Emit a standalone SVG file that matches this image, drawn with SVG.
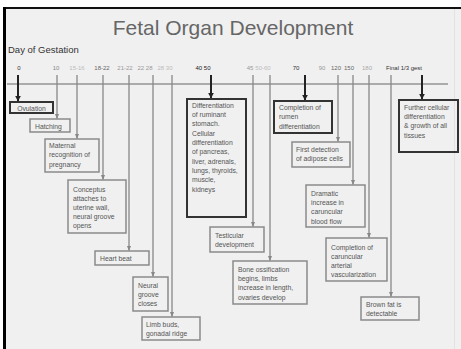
<svg xmlns="http://www.w3.org/2000/svg" width="461" height="349" viewBox="0 0 461 349">
<style>
text{font-family:"Liberation Sans",Arial,sans-serif}
.t{font-size:6.8px;fill:#555}
.lb{font-size:6px;text-anchor:middle}
.bk{fill:none;stroke:#333;stroke-width:2}
.bg{fill:none;stroke:#8a8a8a;stroke-width:1.5}
.ab{stroke:#222;stroke-width:2;fill:none}
.ag{stroke:#888;stroke-width:1.3;fill:none}
</style>
<defs>
<marker id="hb" viewBox="0 0 10 10" refX="9" refY="5" markerWidth="3" markerHeight="3" orient="auto"><path d="M0,0 L10,5 L0,10 z" fill="#222"/></marker>
<marker id="hg" viewBox="0 0 10 10" refX="9" refY="5" markerWidth="4" markerHeight="4" orient="auto"><path d="M0,1 L10,5 L0,9 z" fill="#888"/></marker>
</defs>
<rect x="0" y="0" width="461" height="349" fill="#fff"/>
<rect x="4" y="8" width="457" height="341" fill="#f0f0f0"/>
<line x1="3" y1="8" x2="461" y2="8" stroke="#111" stroke-width="2"/>
<line x1="4.5" y1="7" x2="4.5" y2="349" stroke="#000" stroke-width="3"/>
<line x1="454.5" y1="9" x2="454.5" y2="349" stroke="#e2e2e2" stroke-width="1"/>
<text x="233" y="35" font-size="21" fill="#666" text-anchor="middle">Fetal Organ Development</text>
<text x="8" y="53" font-size="9.5" fill="#333">Day of Gestation</text>
<g id="scale">
<text class="lb" x="19" y="70" fill="#333">0</text>
<text class="lb" x="56" y="70" fill="#888">10</text>
<text class="lb" x="77" y="70" fill="#bbb">15-16</text>
<text class="lb" x="102" y="70" fill="#666">18-22</text>
<text class="lb" x="125" y="70" fill="#999">21-22</text>
<text class="lb" x="145" y="70" fill="#999">22 28</text>
<text class="lb" x="165" y="70" fill="#bbb">28 30</text>
<text class="lb" x="203" y="70" fill="#222">40 50</text>
<text class="lb" x="250" y="70" fill="#999">45</text>
<text class="lb" x="263" y="70" fill="#bbb">50-60</text>
<text class="lb" x="296" y="70" fill="#333">70</text>
<text class="lb" x="322" y="70" fill="#999">90</text>
<text class="lb" x="336" y="70" fill="#666">120</text>
<text class="lb" x="349" y="70" fill="#666">150</text>
<text class="lb" x="367" y="70" fill="#aaa">180</text>
<text class="lb" x="404" y="70" fill="#333">Final 1/3 gest</text>
<line x1="7" y1="84" x2="448" y2="84" stroke="#666" stroke-width="1"/>
</g>
<g id="connectors">
<line class="ab" x1="18" y1="75" x2="18" y2="101" marker-end="url(#hb)"/>
<line class="ag" x1="57" y1="75" x2="57" y2="118.5" marker-end="url(#hg)"/>
<line class="ag" x1="77" y1="75" x2="77" y2="138.5" marker-end="url(#hg)" stroke="#aaa"/>
<line class="ag" x1="103" y1="75" x2="103" y2="179.5" marker-end="url(#hg)" stroke="#666"/>
<line class="ag" x1="129" y1="75" x2="129" y2="250.5" marker-end="url(#hg)"/>
<line class="ag" x1="153" y1="75" x2="153" y2="276.5" marker-end="url(#hg)" stroke="#777"/>
<line class="ag" x1="172" y1="75" x2="172" y2="316.5" marker-end="url(#hg)" stroke="#aaa"/>
<line class="ab" x1="211" y1="75" x2="211" y2="98" marker-end="url(#hb)"/>
<line class="ag" x1="253" y1="75" x2="253" y2="226.5" marker-end="url(#hg)"/>
<line class="ag" x1="270" y1="75" x2="270" y2="260.5" marker-end="url(#hg)" stroke="#aaa"/>
<line class="ab" x1="305" y1="75" x2="305" y2="100" marker-end="url(#hb)"/>
<line class="ag" x1="338" y1="75" x2="338" y2="141.5" marker-end="url(#hg)"/>
<line class="ag" x1="353" y1="75" x2="353" y2="184.5" marker-end="url(#hg)" stroke="#666"/>
<line class="ag" x1="369" y1="75" x2="369" y2="237.5" marker-end="url(#hg)" stroke="#777"/>
<line class="ag" x1="391" y1="75" x2="391" y2="296.5" marker-end="url(#hg)" stroke="#999"/>
<line class="ab" x1="422" y1="75" x2="422" y2="99" marker-end="url(#hb)"/>
</g>
<g id="ovulation"><rect class="bk" x="10" y="102" width="43" height="11"/><text class="t" x="31.5" y="110.5" text-anchor="middle">Ovulation</text></g>
<g id="hatching"><rect class="bg" x="30" y="119" width="40" height="13"/><text class="t" x="35" y="128.5">Hatching</text></g>
<g id="maternal"><rect class="bg" x="45" y="139" width="54" height="33"/><text class="t" x="49" y="147.5">Maternal</text><text class="t" x="49" y="157">recognition of</text><text class="t" x="49" y="166.5">pregnancy</text></g>
<g id="conceptus"><rect class="bg" x="68" y="180" width="58" height="53" stroke="#666"/><text class="t" x="73" y="191.5">Conceptus</text><text class="t" x="73" y="200.5">attaches to</text><text class="t" x="73" y="209.5">uterine wall,</text><text class="t" x="73" y="218.5">neural groove</text><text class="t" x="73" y="227.5">opens</text></g>
<g id="heartbeat"><rect class="bg" x="95" y="251" width="54" height="14"/><text class="t" x="100" y="260.5">Heart beat</text></g>
<g id="neural"><rect class="bg" x="133" y="277" width="35" height="34" stroke="#777"/><text class="t" x="138" y="287.5">Neural</text><text class="t" x="138" y="296.5">groove</text><text class="t" x="138" y="306">closes</text></g>
<g id="limb"><rect class="bg" x="142" y="317" width="58" height="23"/><text class="t" x="146" y="326.5">Limb buds,</text><text class="t" x="146" y="335.5">gonadal ridge</text></g>
<g id="differentiation"><rect class="bk" x="187" y="99" width="59" height="118"/>
<text class="t" x="192" y="107.5">Differentiation</text><text class="t" x="192" y="116.8">of ruminant</text><text class="t" x="192" y="126.2">stomach.</text><text class="t" x="192" y="135.5">Cellular</text><text class="t" x="192" y="144.8">differentiation</text><text class="t" x="192" y="154.2">of pancreas,</text><text class="t" x="192" y="163.5">liver, adrenals,</text><text class="t" x="192" y="172.8">lungs, thyroids,</text><text class="t" x="192" y="182.2">muscle,</text><text class="t" x="192" y="191.5">kidneys</text></g>
<g id="testicular"><rect class="bg" x="210" y="227" width="54" height="25"/><text class="t" x="215" y="237.5">Testicular</text><text class="t" x="215" y="246.5">development</text></g>
<g id="bone"><rect class="bg" x="233" y="261" width="74" height="43"/><text class="t" x="238" y="271.5">Bone ossification</text><text class="t" x="238" y="281">begins, limbs</text><text class="t" x="238" y="290">increase in length,</text><text class="t" x="238" y="299.5">ovaries develop</text></g>
<g id="rumen"><rect class="bk" x="274" y="101" width="58" height="32"/><text class="t" x="279" y="109.5">Completion of</text><text class="t" x="279" y="119">rumen</text><text class="t" x="279" y="128.5">differentiation</text></g>
<g id="adipose"><rect class="bg" x="292" y="142" width="58" height="25" stroke="#666"/><text class="t" x="296" y="151.5">First detection</text><text class="t" x="296" y="161">of adipose cells</text></g>
<g id="dramatic"><rect class="bg" x="306" y="185" width="59" height="42" stroke="#666"/><text class="t" x="311" y="195.5">Dramatic</text><text class="t" x="311" y="204.5">increase in</text><text class="t" x="311" y="214">caruncular</text><text class="t" x="311" y="223.5">blood flow</text></g>
<g id="caruncular"><rect class="bg" x="326" y="238" width="61" height="43" stroke="#666"/><text class="t" x="331" y="249.5">Completion of</text><text class="t" x="331" y="258.5">caruncular</text><text class="t" x="331" y="267.5">arterial</text><text class="t" x="331" y="276.5">vascularization</text></g>
<g id="brownfat"><rect class="bg" x="361" y="297" width="58" height="23"/><text class="t" x="366" y="306.5">Brown fat is</text><text class="t" x="366" y="316">detectable</text></g>
<g id="further"><rect class="bk" x="399" y="100" width="59" height="52"/><text class="t" x="404" y="109.5">Further cellular</text><text class="t" x="404" y="118.5">differentiation</text><text class="t" x="404" y="128">&amp; growth of all</text><text class="t" x="404" y="137.5">tissues</text></g>
</svg>
